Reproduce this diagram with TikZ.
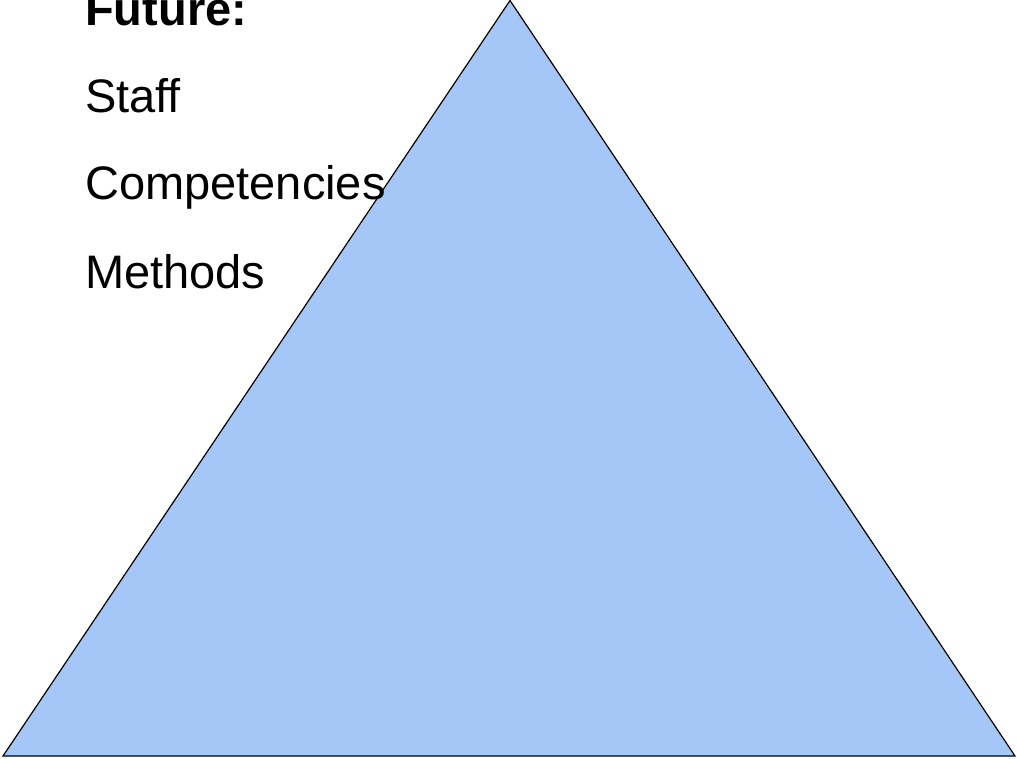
\documentclass[tikz,border=0pt]{standalone}
\usepackage{fontspec}
\setmainfont{Liberation Sans}
\definecolor{tri}{RGB}{164,199,248}
\begin{document}
\begin{tikzpicture}[x=1pt,y=-1pt,
  lbl/.style={anchor=base west,inner sep=0pt,font=\fontsize{47}{50}\selectfont}]
\useasboundingbox (0,0) rectangle (1017,759);
\coordinate (apex) at (510,0.5);
\coordinate (bl) at (3,756);
\coordinate (br) at (1015,756);
\filldraw[fill=tri,draw=black,line width=1.2pt,line join=miter] (apex) -- (br) -- (bl) -- cycle;
\node[lbl,font=\fontsize{47}{50}\selectfont\bfseries] (future) at (85,26) {Future:};
\node[lbl] (staff) at (85,113) {Staff};
\node[lbl] (comp) at (85,200) {Competencies};
\node[lbl] (meth) at (85,288) {Methods};
\end{tikzpicture}
\end{document}
